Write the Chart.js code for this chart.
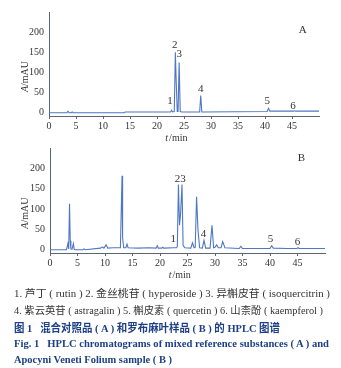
<!DOCTYPE html>
<html>
<head>
<meta charset="utf-8">
<script src="https://cdn.jsdelivr.net/npm/chart.js@4.4.0/dist/chart.umd.min.js"></script>
<style>
  body { margin: 0; background: #fff; width: 341px; height: 368px; overflow: hidden; position: relative; }
  canvas { position: absolute; left: 0; }
  #chartA { top: 0; }
  #chartB { top: 136px; }
  .cap { position: absolute; left: 14px; white-space: nowrap; font-family: "Liberation Serif", "Noto Sans CJK SC", serif; line-height: 1; transform-origin: 0 0; }
  .note { font-size: 10px; color: #333; }
  .fig { font-size: 11px; color: #1d3f86; font-weight: bold; }
</style>
</head>
<body>
<canvas id="chartA" width="341" height="145"></canvas>
<canvas id="chartB" width="341" height="145"></canvas>

<div class="cap note" data-w="316" style="top:289px">1. 芦丁 ( rutin )  2. 金丝桃苷 ( hyperoside )  3. 异槲皮苷 ( isoquercitrin )</div>
<div class="cap note" data-w="309" style="top:306px">4. 紫云英苷 ( astragalin )  5. 槲皮素 ( quercetin )  6. 山柰酚 ( kaempferol )</div>
<div class="cap fig" data-w="266" style="top:323px">图 1  &nbsp; 混合对照品 ( A ) 和罗布麻叶样品 ( B ) 的 HPLC 图谱</div>
<div class="cap fig" data-w="315" style="top:338px">Fig. 1 &nbsp; HPLC chromatograms of mixed reference substances ( A ) and</div>
<div class="cap fig" data-w="158" style="top:354px">Apocyni Veneti Folium sample ( B )</div>

<script>
// A: mixed reference substances
var timeA = [0, 3.3, 3.5, 3.7, 4.1, 4.3, 4.5, 13.9, 14.1, 22.5, 22.7, 22.9, 23.2, 23.4, 23.55, 23.75, 23.9, 24.1, 24.3, 24.6, 27.9, 28.1, 28.3, 28.6, 40.4, 40.65, 40.9, 45.3, 45.5, 45.7, 50];
var absA  = [0, 0, 4, 0, 0, 2, 0, 0, 2, 2, 6, 2, 3, 150, 80, 3, 3, 125, 3, 2, 2, 43, 2, 2, 3, 11, 4, 4, 5, 4, 4];

// B: Apocyni Veneti Folium sample
var timeB = [0, 3.0, 3.25, 3.4, 3.55, 3.68, 3.8, 4.0, 4.25, 4.4, 4.55, 6.0, 6.2, 6.4, 9.2, 9.5, 9.8, 10.2, 10.5, 11.5, 12.8, 13.1, 13.2, 13.4, 13.8, 14.0, 14.2, 16.0, 18.0, 19.3, 19.5, 19.7, 20.3, 20.5, 20.7, 22.5, 23.0, 23.15, 23.35, 23.55, 23.75, 24.0, 24.2, 24.5, 25.6, 25.9, 26.2, 26.4, 26.65, 26.9, 27.2, 27.7, 28.0, 28.3, 29.1, 29.45, 29.75, 30.0, 30.3, 30.6, 31.1, 31.4, 31.8, 34.4, 34.7, 35.0, 40.0, 40.3, 40.6, 43.0, 44.9, 45.1, 45.3, 50];
var absB  = [0, 0, 15, 2, 113, 22, 2, 1, 15, 1, 0, 0, 2, 0, 4, 7, 4, 12, 4, 5, 5, 182, 30, 5, 5, 14, 5, 4, 5, 4, 10, 4, 4, 6, 4, 5, 5, 8, 160, 60, 90, 160, 10, 5, 4, 17, 5, 6, 130, 50, 5, 4, 23, 4, 4, 60, 5, 6, 12, 5, 5, 20, 5, 3, 8, 3, 3, 10, 4, 3, 3, 5, 3, 3];

var yTicks = [0, 50, 100, 150, 200];
var xTicks = [0, 5, 10, 15, 20, 25, 30, 35, 40, 45];

// peak numbers: label, time, height of the label centre
var peaksA = [['1', 22.4, 29], ['2', 23.3, 167], ['3', 24.1, 145], ['4', 28.1, 58], ['5', 40.4, 28], ['6', 45.2, 17]];
var peaksB = [['1', 22.4, 26], ['23', 23.7, 173], ['4', 27.9, 38], ['5', 40.1, 26], ['6', 45.0, 19]];

var lineColor = '#4f77c4';
var axisColor = '#5c6670';
var textColor = '#333';

function toPoints(t, a) {
  return t.map(function (v, i) { return { x: v, y: a[i] }; });
}

// numbers over the peaks, panel letter and axis titles
function labelPlugin(peaks, panel, panelPos) {
  return {
    id: 'peakLabels',
    afterDraw: function (chart) {
      var ctx = chart.ctx, xs = chart.scales.x, ys = chart.scales.y;
      ctx.save();
      ctx.fillStyle = textColor;
      ctx.textAlign = 'center';
      ctx.textBaseline = 'middle';
      ctx.font = '11px "Liberation Serif", serif';
      peaks.forEach(function (p) {
        ctx.fillText(p[0], xs.getPixelForValue(p[1]), ys.getPixelForValue(p[2]));
      });
      ctx.fillText(panel, xs.getPixelForValue(panelPos[0]), ys.getPixelForValue(panelPos[1]));

      // x title: t/min
      var tx = xs.getPixelForValue(23.5), ty = chart.chartArea.bottom + 22;
      ctx.font = 'italic 10px "Liberation Serif", serif';
      var w1 = ctx.measureText('t').width;
      ctx.font = '10px "Liberation Serif", serif';
      var w2 = ctx.measureText('/min').width;
      ctx.textAlign = 'left';
      ctx.font = 'italic 10px "Liberation Serif", serif';
      ctx.fillText('t', tx - (w1 + w2) / 2, ty);
      ctx.font = '10px "Liberation Serif", serif';
      ctx.fillText('/min', tx - (w1 + w2) / 2 + w1 + 1, ty);

      // y title: A/mAU
      ctx.translate(25, ys.getPixelForValue(90));
      ctx.rotate(-Math.PI / 2);
      ctx.font = 'italic 10px "Liberation Serif", serif';
      w1 = ctx.measureText('A').width;
      ctx.font = '10px "Liberation Serif", serif';
      w2 = ctx.measureText('/mAU').width;
      ctx.font = 'italic 10px "Liberation Serif", serif';
      ctx.fillText('A', -(w1 + w2) / 2, 0);
      ctx.font = '10px "Liberation Serif", serif';
      ctx.fillText('/mAU', -(w1 + w2) / 2 + w1, 0);
      ctx.restore();
    }
  };
}

function makeChart(id, t, a, peaks, panel, panelPos, yWidth, xHeight, padRight) {
  var ctx = document.getElementById(id).getContext('2d');
  return new Chart(ctx, {
    type: 'line',
    data: {
      datasets: [{
        data: toPoints(t, a),
        borderColor: lineColor,
        borderWidth: 1.1,
        pointRadius: 0,
        tension: 0,
        fill: false
      }]
    },
    options: {
      responsive: false,
      animation: false,
      layout: { padding: { left: 0, right: padRight, top: 12, bottom: 0 } },
      plugins: { legend: { display: false }, tooltip: { enabled: false } },
      scales: {
        x: {
          type: 'linear',
          min: 0,
          max: 50,
          afterFit: function (s) { s.height = xHeight; },
          afterBuildTicks: function (s) { s.ticks = xTicks.map(function (v) { return { value: v }; }); },
          ticks: { color: textColor, padding: 1, maxRotation: 0, font: { family: '"Liberation Serif", serif', size: 10 } },
          grid: { drawOnChartArea: false, tickLength: 3, color: axisColor },
          border: { color: axisColor, width: 1 }
        },
        y: {
          min: -8,
          max: 250,
          afterFit: function (s) { s.width = yWidth; },
          afterBuildTicks: function (s) { s.ticks = yTicks.map(function (v) { return { value: v }; }); },
          ticks: { color: textColor, padding: 5, font: { family: '"Liberation Serif", serif', size: 10 } },
          grid: { drawOnChartArea: false, drawTicks: false },
          border: { color: axisColor, width: 1 }
        }
      }
    },
    plugins: [labelPlugin(peaks, panel, panelPos)]
  });
}

makeChart('chartA', timeA, absA, peaksA, 'A', [47, 205], 49, 29, 22);
makeChart('chartB', timeB, absB, peaksB, 'B', [45.7, 225], 50, 28, 16);

// squeeze caption lines to their set widths
document.querySelectorAll('.cap').forEach(function (el) {
  var w = el.getBoundingClientRect().width;
  var target = +el.getAttribute('data-w');
  if (w > 0) el.style.transform = 'scaleX(' + (target / w) + ')';
});
</script>
</body>
</html>
